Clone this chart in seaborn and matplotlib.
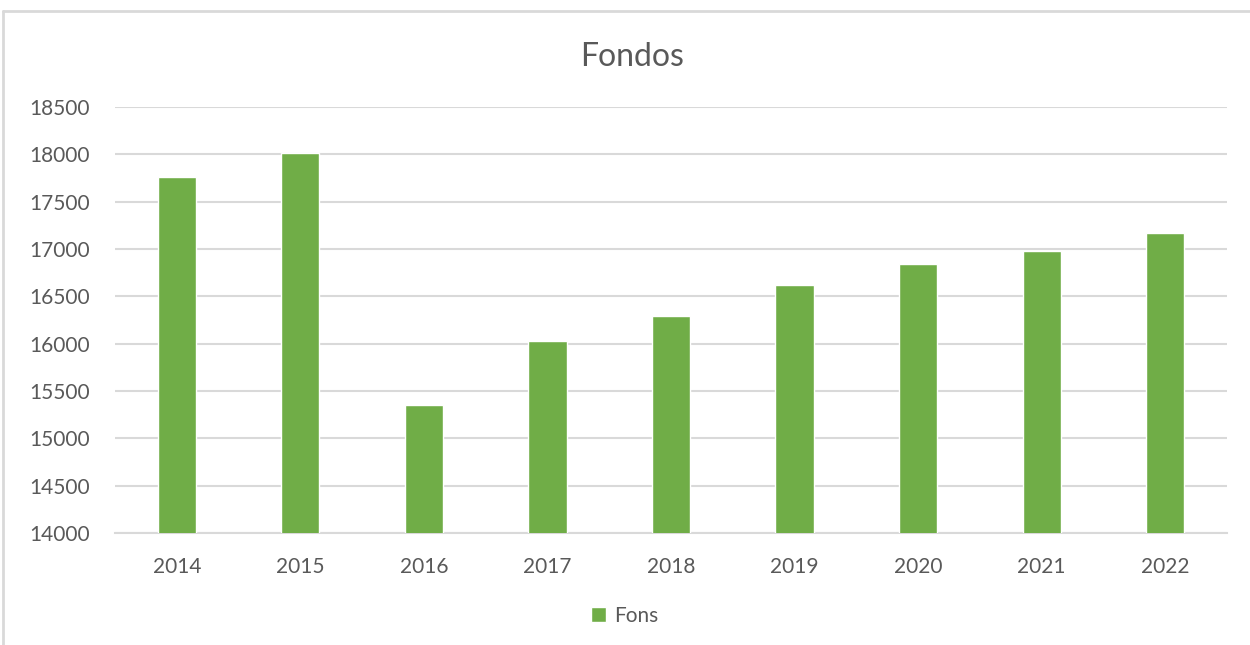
import matplotlib
matplotlib.use("Agg")
import matplotlib.pyplot as plt
import seaborn as sns
import pandas as pd
from matplotlib.lines import Line2D

# Data
years = ["2014", "2015", "2016", "2017", "2018", "2019", "2020", "2021", "2022"]
fons = [17760, 18014, 15352, 16024, 16288, 16619, 16845, 16976, 17169]

df = pd.DataFrame({"year": years, "Fons": fons})

sns.set_theme(style="white")
plt.rcParams["font.family"] = ["Lato", "DejaVu Sans"]

text_color = "#595959"
grid_color = "#D9D9D9"
bar_color = "#70AD47"

fig = plt.figure(figsize=(12.5, 6.45), dpi=100)
ax = fig.add_axes([0.092, 0.1736, 0.8896, 0.6604])

sns.barplot(data=df, x="year", y="Fons", color=bar_color, width=0.31,
            saturation=1, label="Fons", ax=ax, zorder=3)

ax.set_ylim(14000, 18500)
ax.set_yticks(range(14000, 18501, 500))
ax.set_xlim(-0.5, len(years) - 0.5)
ax.yaxis.grid(True, color=grid_color, linewidth=1.5, zorder=0)
ax.set_axisbelow(True)
for side in ["top", "right", "left"]:
    ax.spines[side].set_visible(False)
ax.spines["bottom"].set_color(grid_color)
ax.spines["bottom"].set_linewidth(1.5)
ax.tick_params(axis="both", length=0, labelsize=15, labelcolor=text_color)
ax.tick_params(axis="x", pad=17)
ax.tick_params(axis="y", pad=18)
ax.set_xlabel("")
ax.set_ylabel("")

fig.text(0.5055, 0.912, "Fondos", ha="center", va="center",
         fontsize=23, color=text_color)

leg = ax.legend(loc="center", bbox_to_anchor=(0.5, 0.045),
                bbox_transform=fig.transFigure, frameon=False,
                handlelength=0.7, handleheight=0.7, handletextpad=0.4,
                fontsize=15)
for t in leg.get_texts():
    t.set_color(text_color)

# light outer frame of the chart area
fig.add_artist(Line2D([3 / 1250, 1.0], [1 - 11 / 645, 1 - 11 / 645],
                      transform=fig.transFigure, color=grid_color, linewidth=2))
fig.add_artist(Line2D([3 / 1250, 3 / 1250], [0.0, 1 - 11 / 645],
                      transform=fig.transFigure, color=grid_color, linewidth=2))

fig.savefig("out.png", dpi=100)
